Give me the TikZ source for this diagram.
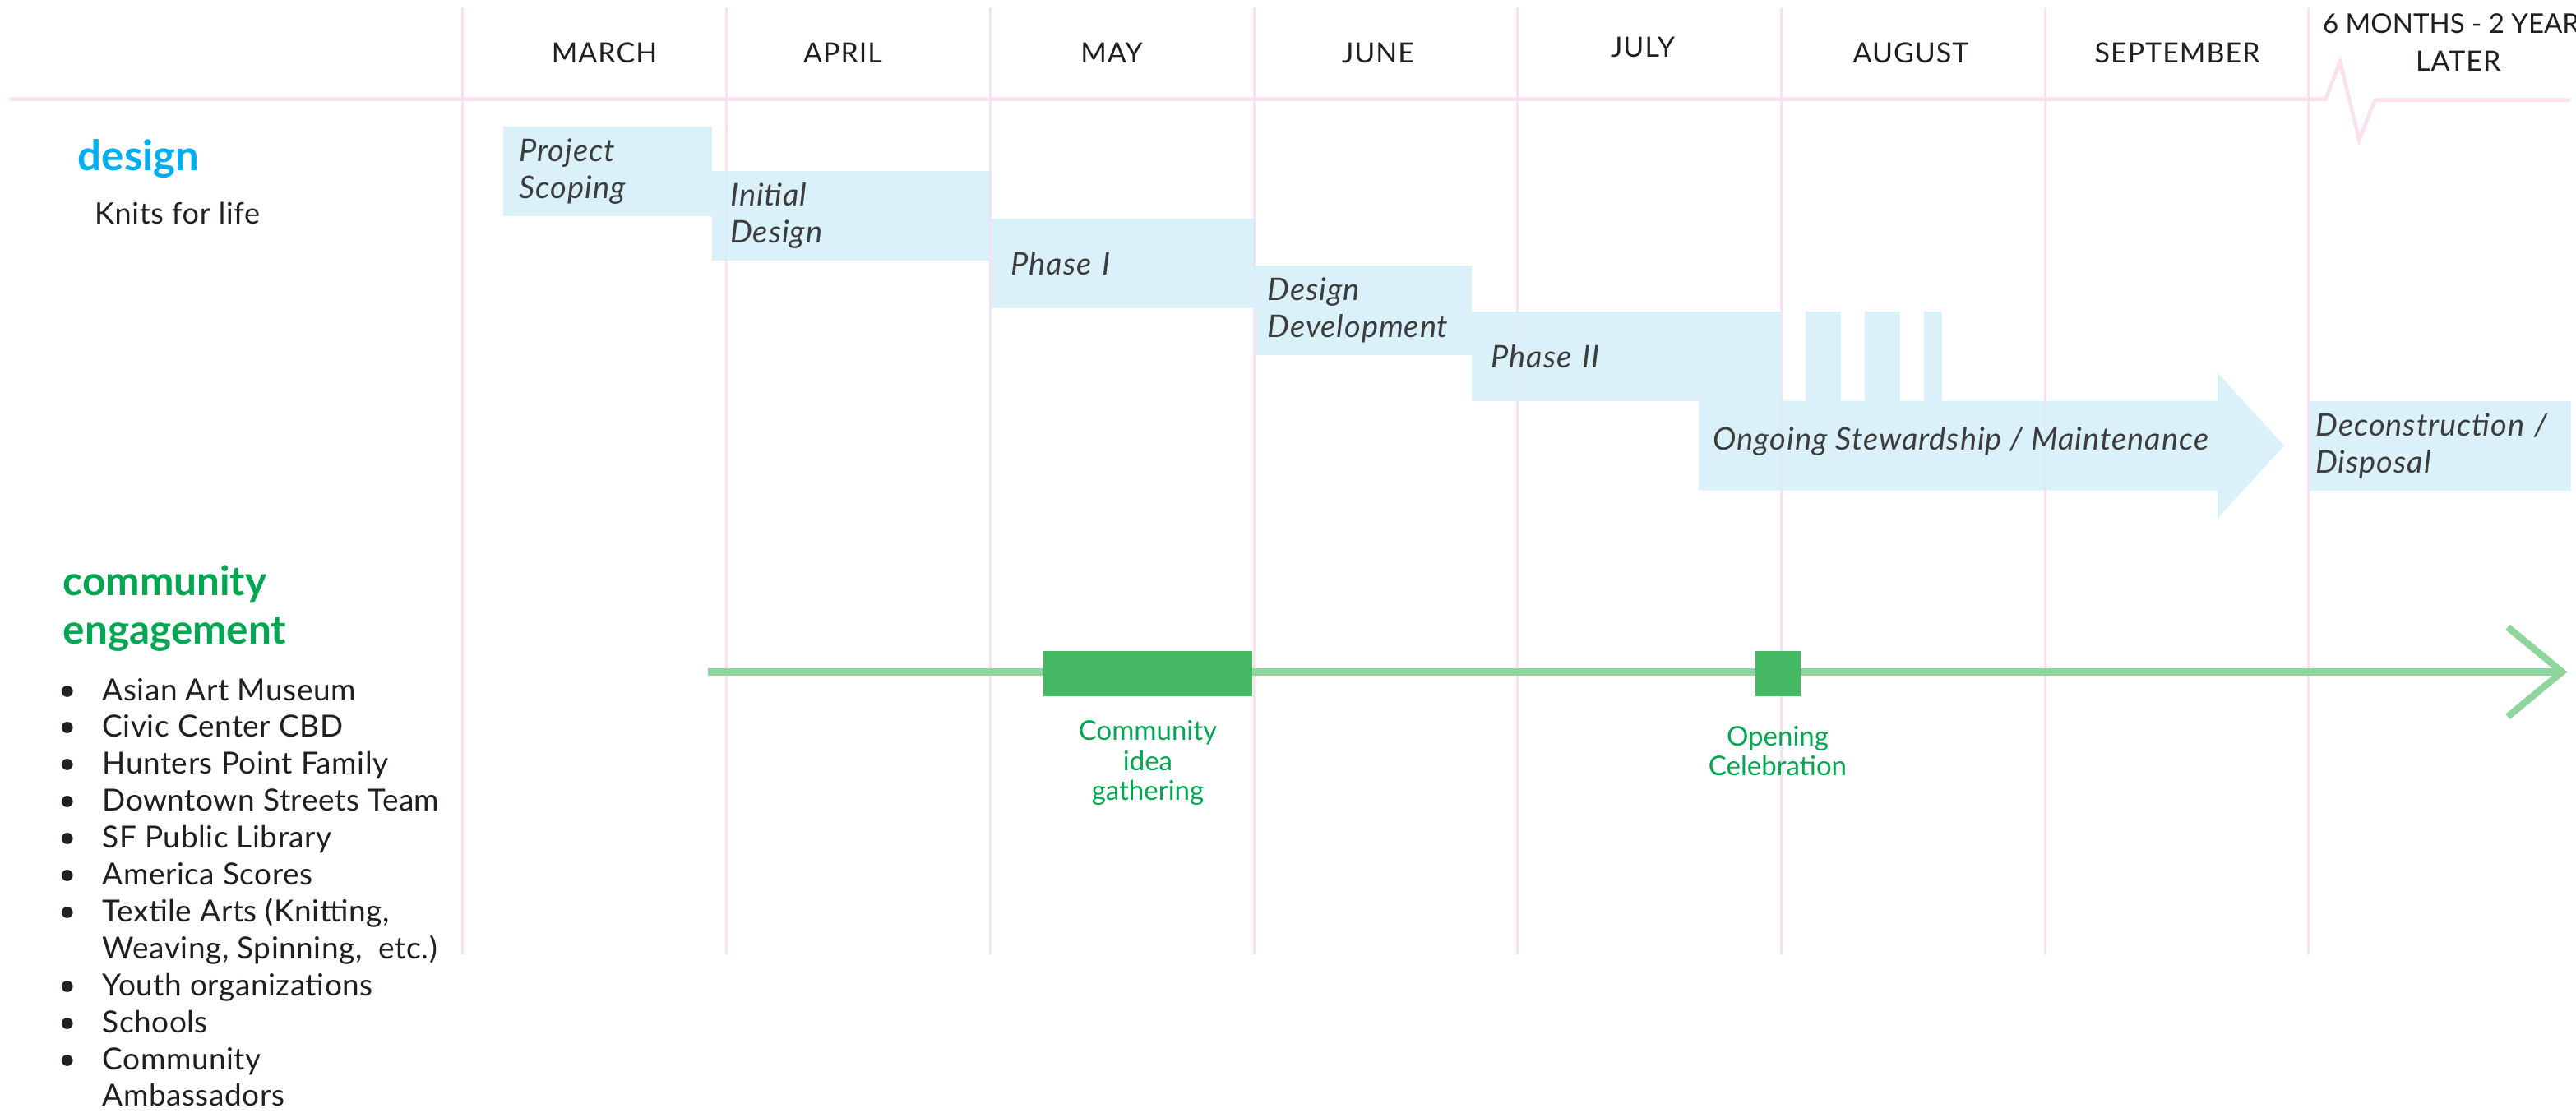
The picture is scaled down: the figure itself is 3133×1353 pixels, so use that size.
\documentclass[tikz,border=0pt]{standalone}
\usepackage{fontspec}
\setmainfont{Lato}
\definecolor{gridpink}{HTML}{FBE1EF}
\definecolor{boxblue}{HTML}{D3EEF9}
\definecolor{dsgblue}{HTML}{00AEEF}
\definecolor{cgreen}{HTML}{00A651}
\definecolor{lgreen}{HTML}{8ED69B}
\definecolor{mgreen}{HTML}{45B864}
\definecolor{txtgray}{HTML}{3D3D3D}
\definecolor{txtdark}{HTML}{231F20}
\newcommand{\taskfont}{\fontsize{38}{45}\selectfont\itshape\addfontfeatures{LetterSpace=2.5}}
\tikzset{
  gridline/.style={draw=gridpink, line width=3pt},
  hline/.style={draw=gridpink, line width=4.5pt},
  month/.style={font=\fontsize{34}{40}\selectfont\addfontfeatures{LetterSpace=3}, text=txtdark, anchor=base, inner sep=0pt},
  taskbox/.style={fill=boxblue, fill opacity=0.8, text opacity=1, text=txtgray, anchor=north west,
    inner ysep=0pt, align=left, font=\taskfont},
  tasktext/.style={text=txtgray, anchor=base west, inner sep=0pt, font=\taskfont},
  listitem/.style={anchor=base west, inner sep=0pt, font=\fontsize{37}{45}\selectfont\addfontfeatures{LetterSpace=1.5}, text=txtdark},
  bulletmark/.style={anchor=base, inner sep=0pt, font=\fontsize{37}{45}\selectfont, text=txtdark},
  greenline/.style={draw=lgreen, line width=8.3pt},
  eventbox/.style={fill=mgreen, inner sep=0pt, anchor=north west},
  evlabel/.style={text=cgreen, font=\fontsize{33}{36.7}\selectfont, align=center, inner sep=0pt},
}
\begin{document}
\begin{tikzpicture}[x=1pt,y=-1pt]
\useasboundingbox (0,0) rectangle (3133,1353);
\fill[white] (0,0) rectangle (3133,1353);
\clip (0,0) rectangle (3133,1353);

% grid
\foreach \gx in {562.3,883.5,1204,1525.5,1845.5,2166.5,2487,2807.5}
  \draw[gridline] (\gx,9) -- (\gx,1161);
\draw[hline, line join=miter] (11.5,120.7) -- (2828.3,120.7) -- (2846,75) -- (2869.3,170) -- (2888.3,121.7) -- (3126,121.7);

% month headers
\node[month] (mar) at (735,76.7) {MARCH};
\node[month] (apr) at (1025,76.7) {APRIL};
\node[month] (may) at (1352,76.7) {MAY};
\node[month] (jun) at (1676,76.7) {JUNE};
\node[month] (jul) at (1998,69) {JULY};
\node[month] (aug) at (2324,76.7) {AUGUST};
\node[month] (sep) at (2648,76.7) {SEPTEMBER};
\node[month, font=\fontsize{33}{40}\selectfont] (later1) at (2990,40.7) {6 MONTHS - 2 YEARS};
\node[month] (later2) at (2989.7,86) {LATER};

% design heading
\node[anchor=base west, inner sep=0pt, text=dsgblue, font=\fontsize{51}{56}\selectfont\bfseries] (design) at (94.7,207.5) {design};
\node[anchor=base west, inner sep=0pt, text=txtdark, font=\fontsize{36}{42}\selectfont\addfontfeatures{LetterSpace=2}] (knits) at (114.8,272) {Knits for life};

% design tasks
\node[taskbox, inner xsep=20pt, text width=214.5pt, minimum height=108.7pt] (ps) at (611.4,154) {Project\\Scoping};
\node[taskbox, inner xsep=22.5pt, text width=293.5pt, minimum height=108.7pt] (id) at (865.5,208) {Initial\\Design};
\node[taskbox, inner xsep=24pt, text width=272.8pt, minimum height=108.7pt] (p1) at (1205.5,266) {Phase I};
\node[taskbox, inner xsep=15pt, text width=233.4pt, minimum height=108.7pt] (dd) at (1526.3,323) {Design\\Development};
\node[taskbox, inner xsep=23.6pt, text width=328.9pt, minimum height=108.7pt] (p2) at (1789.7,379) {Phase II};
\node[taskbox, inner xsep=7.5pt, text width=303.3pt, minimum height=108.7pt] (dc) at (2808.7,488) {Deconstruction~/\\Disposal};

% small bars
\fill[boxblue, fill opacity=0.8] (2196.2,379) rectangle (2239.3,487.7);
\fill[boxblue, fill opacity=0.8] (2268,379) rectangle (2311,487.7);
\fill[boxblue, fill opacity=0.8] (2340.3,379) rectangle (2362.1,487.7);

% ongoing arrow
\fill[boxblue, fill opacity=0.8] (2066,487.7) -- (2697,487.7) -- (2697,453.3) -- (2778,542.3) -- (2697,630.5) -- (2697,596.7) -- (2066,596.7) -- cycle;
\node[tasktext] (ongoing) at (2083.7,547) {Ongoing Stewardship / Maintenance};

% community engagement heading
\node[anchor=base west, inner sep=0pt, text=cgreen, font=\fontsize{49.5}{58}\selectfont\bfseries] (comm1) at (76.5,724.8) {community};
\node[anchor=base west, inner sep=0pt, text=cgreen, font=\fontsize{49.5}{58}\selectfont\bfseries] (comm2) at (76.5,783) {engagement};

% list
\foreach \i/\txt/\b in {0/Asian Art Museum/1,1/Civic Center CBD/1,2/Hunters Point Family/1,3/Downtown Streets Team/1,4/SF Public Library/1,5/America Scores/1,6/{Textile Arts (Knitting,}/1,7/{Weaving, Spinning,\ \ etc.)}/0,8/Youth organizations/1,9/Schools/1,10/Community/1,11/Ambassadors/0}{
  \node[listitem] (li\i) at (124.4,852+44.9*\i) {\txt};
  \ifnum\b=1 \node[bulletmark] (bu\i) at (82,852+44.9*\i) {•};\fi
}

% community timeline
\coordinate (gstart) at (860.7,817.4);
\coordinate (gtip) at (3116,817.4);
\coordinate (garmA) at (3050,763);
\coordinate (garmB) at (3050,871.8);
\draw[greenline] (gstart) -- (gtip);
\draw[greenline, line join=miter] (garmA) -- (gtip) -- (garmB);

\node[eventbox, minimum width=253.8pt, minimum height=54.7pt] (cig) at (1268.9,792) {};
\node[eventbox, minimum width=54.9pt, minimum height=54.7pt] (oc) at (2134.9,792) {};
\node[evlabel] (cigl) at (1396,928) {Community\\idea\\gathering};
\node[evlabel] (ocl) at (2162,913.5) {Opening\\Celebration};
\end{tikzpicture}
\end{document}
